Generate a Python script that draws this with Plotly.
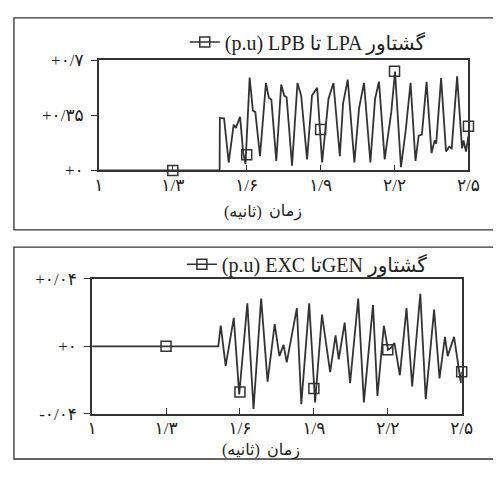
import plotly.graph_objects as go

# ---------------- data ----------------
# top panel: torque LPA-LPB (p.u) vs time (s)
top_t = [1.0, 1.49, 1.491, 1.508, 1.527, 1.547, 1.556, 1.573, 1.586, 1.595,
         1.612, 1.625, 1.635, 1.654, 1.678, 1.69, 1.70, 1.72, 1.74, 1.752,
         1.762, 1.784, 1.806, 1.821, 1.845, 1.865, 1.886, 1.897, 1.906, 1.932,
         1.952, 1.978, 1.991, 2.010, 2.037, 2.056, 2.076, 2.102, 2.121, 2.137,
         2.160, 2.187, 2.202, 2.226, 2.245, 2.265, 2.285, 2.298, 2.311, 2.330,
         2.350, 2.363, 2.369, 2.389, 2.409, 2.422, 2.432, 2.454, 2.474, 2.480,
         2.490, 2.5]
top_v = [0.0, 0.0, 0.333, 0.33, 0.05, 0.29, 0.27, 0.34, 0.11, 0.04,
         0.59, 0.38, 0.37, 0.09, 0.555, 0.46, 0.45, 0.06, 0.545, 0.475,
         0.465, 0.03, 0.555, 0.475, 0.07, 0.475, 0.525, 0.26, 0.05, 0.455,
         0.555, 0.09, 0.424, 0.576, 0.05, 0.394, 0.556, 0.05, 0.455, 0.563,
         0.07, 0.373, 0.627, 0.02, 0.25, 0.556, 0.06, 0.22, 0.227, 0.563,
         0.11, 0.19, 0.17, 0.586, 0.12, 0.15, 0.14, 0.597, 0.14, 0.19,
         0.12, 0.22]
top_mark_t = [1.3, 1.6, 1.9, 2.2, 2.5]
top_mark_v = [0.0, 0.10, 0.26, 0.63, 0.28]

# bottom panel: torque GEN-EXC (p.u) vs time (s)
bot_t = [1.0, 1.512, 1.522, 1.542, 1.575, 1.597, 1.630, 1.655, 1.686, 1.712,
         1.741, 1.760, 1.777, 1.790, 1.831, 1.849, 1.881, 1.905, 1.933, 1.966,
         1.988, 2.001, 2.025, 2.047, 2.080, 2.103, 2.140, 2.158, 2.184, 2.201,
         2.212, 2.227, 2.249, 2.276, 2.299, 2.332, 2.354, 2.388, 2.410, 2.432,
         2.443, 2.469, 2.497, 2.5]
bot_v = [0.0, 0.0, 0.0122, -0.0115, 0.0169, -0.0285, 0.0254, -0.037, 0.0283, -0.0209,
         0.0132, -0.0058, 0.0009, -0.0095, 0.0226, -0.0342, 0.0254, -0.0332, 0.0188, -0.0152,
         0.0065, -0.0077, 0.0141, -0.0218, 0.0283, -0.0332, 0.0245, -0.0294, 0.0122, -0.002,
         -0.001, 0.002, -0.0171, 0.0226, -0.0237, 0.0311, -0.0313, 0.0217, -0.019, 0.0056,
         -0.0058, 0.0056, -0.0218, -0.015]
bot_mark_t = [1.3, 1.6, 1.9, 2.2, 2.5]
bot_mark_v = [0.0, -0.027, -0.025, -0.002, -0.015]

x_tickvals = [1.0, 1.3, 1.6, 1.9, 2.2, 2.5]
x_ticktext = ["۱", "۱/۳", "۱/۶", "۱/۹", "۲/۲", "۲/۵"]
top_y_tickvals = [0.0, 0.35, 0.7]
top_y_ticktext = ["+۰", "+۰/۳۵", "+۰/۷"]
bot_y_tickvals = [-0.04, 0.0, 0.04]
bot_y_ticktext = ["-۰/۰۴", "+۰", "+۰/۰۴"]

top_name = "(p.u) LPB تا LPA گشتاور"
bot_name = "(p.u) EXC تاGEN گشتاور"
x_title_word = "زمان"
x_title_unit = "(ثانیه)"

# ---------------- figure ----------------
# page is 501x477; the html body keeps its default 8px margin
PAGE_W, PAGE_H, OFF = 501, 477, 8
W, H = PAGE_W - 2 * OFF, PAGE_H - 2 * OFF
INK = "#333333"
FONT = "Liberation Serif, DejaVu Sans, serif"

def px(x):
    return (x - OFF) / W

def py(y):
    return 1 - (y - OFF) / H

fig = go.Figure()

mk = dict(symbol="square-open", size=10, color=INK, line=dict(width=1.5, color=INK))

# top panel
fig.add_trace(go.Scatter(x=top_t, y=top_v, mode="lines", xaxis="x", yaxis="y",
                         line=dict(color=INK, width=1.8), showlegend=False,
                         hoverinfo="skip"))
fig.add_trace(go.Scatter(x=top_mark_t, y=top_mark_v, mode="markers", xaxis="x", yaxis="y",
                         marker=mk, showlegend=False, cliponaxis=False))
fig.add_trace(go.Scatter(x=[None], y=[None], mode="lines+markers", xaxis="x", yaxis="y",
                         name=top_name, legend="legend",
                         line=dict(color=INK, width=1.5), marker=mk))

# bottom panel
fig.add_trace(go.Scatter(x=bot_t, y=bot_v, mode="lines", xaxis="x2", yaxis="y2",
                         line=dict(color=INK, width=1.8), showlegend=False,
                         hoverinfo="skip"))
fig.add_trace(go.Scatter(x=bot_mark_t, y=bot_mark_v, mode="markers", xaxis="x2", yaxis="y2",
                         marker=mk, showlegend=False, cliponaxis=False))
fig.add_trace(go.Scatter(x=[None], y=[None], mode="lines+markers", xaxis="x2", yaxis="y2",
                         name=bot_name, legend="legend2",
                         line=dict(color=INK, width=1.5), marker=mk))

axis_common = dict(showline=True, linecolor=INK, linewidth=1.6, mirror=True,
                   showgrid=False, zeroline=False,
                   tickfont=dict(family=FONT, size=17, color="#222"),
                   tickcolor=INK, ticklen=6, tickwidth=1.3)

title_font = dict(family=FONT, size=16, color="#222")

fig.update_layout(
    width=W, height=H,
    margin=dict(l=0, r=0, t=0, b=0),
    paper_bgcolor="white", plot_bgcolor="white",
    font=dict(family=FONT, color="#222"),
    xaxis=dict(domain=[px(97), px(480)], range=[1.0, 2.5], anchor="y",
               tickmode="array", tickvals=x_tickvals, ticktext=x_ticktext,
               ticks="inside", ticklabelstandoff=-2, **axis_common),
    yaxis=dict(domain=[py(168), py(53)], range=[0.0, 0.7], anchor="x",
               tickmode="array", tickvals=top_y_tickvals, ticktext=top_y_ticktext,
               ticks="outside", ticklabelstandoff=4, **axis_common),
    xaxis2=dict(domain=[px(90), px(473)], range=[1.0, 2.5], anchor="y2",
                tickmode="array", tickvals=x_tickvals, ticktext=x_ticktext,
                ticks="inside", ticklabelstandoff=-2, **axis_common),
    yaxis2=dict(domain=[py(422), py(281)], range=[-0.04, 0.04], anchor="x2",
                tickmode="array", tickvals=bot_y_tickvals, ticktext=bot_y_ticktext,
                ticks="outside", ticklabelstandoff=4, **axis_common),
    legend=dict(x=px(186), y=py(34), xanchor="left", yanchor="middle",
                bgcolor="rgba(0,0,0,0)", font=dict(family=FONT, size=20, color="#222"),
                itemwidth=30, tracegroupgap=0),
    legend2=dict(x=px(183), y=py(266), xanchor="left", yanchor="middle",
                 bgcolor="rgba(0,0,0,0)", font=dict(family=FONT, size=20, color="#222"),
                 itemwidth=30, tracegroupgap=0),
    shapes=[
        dict(type="rect", xref="paper", yref="paper",
             x0=px(9), x1=px(520), y0=py(230), y1=py(9),
             line=dict(color=INK, width=1.3)),
        dict(type="rect", xref="paper", yref="paper",
             x0=px(9), x1=px(520), y0=py(469), y1=py(248),
             line=dict(color=INK, width=1.3)),
    ],
    annotations=[
        dict(text=x_title_unit, xref="paper", yref="paper", x=px(268), y=py(211),
             showarrow=False, font=title_font, xanchor="right", yanchor="middle"),
        dict(text=x_title_word, xref="paper", yref="paper", x=px(271), y=py(211),
             showarrow=False, font=title_font, xanchor="left", yanchor="middle"),
        dict(text=x_title_unit, xref="paper", yref="paper", x=px(266), y=py(460),
             showarrow=False, font=title_font, xanchor="right", yanchor="middle"),
        dict(text=x_title_word, xref="paper", yref="paper", x=px(269), y=py(460),
             showarrow=False, font=title_font, xanchor="left", yanchor="middle"),
    ],
)

fig.write_html("out.html", config={"displayModeBar": False})
